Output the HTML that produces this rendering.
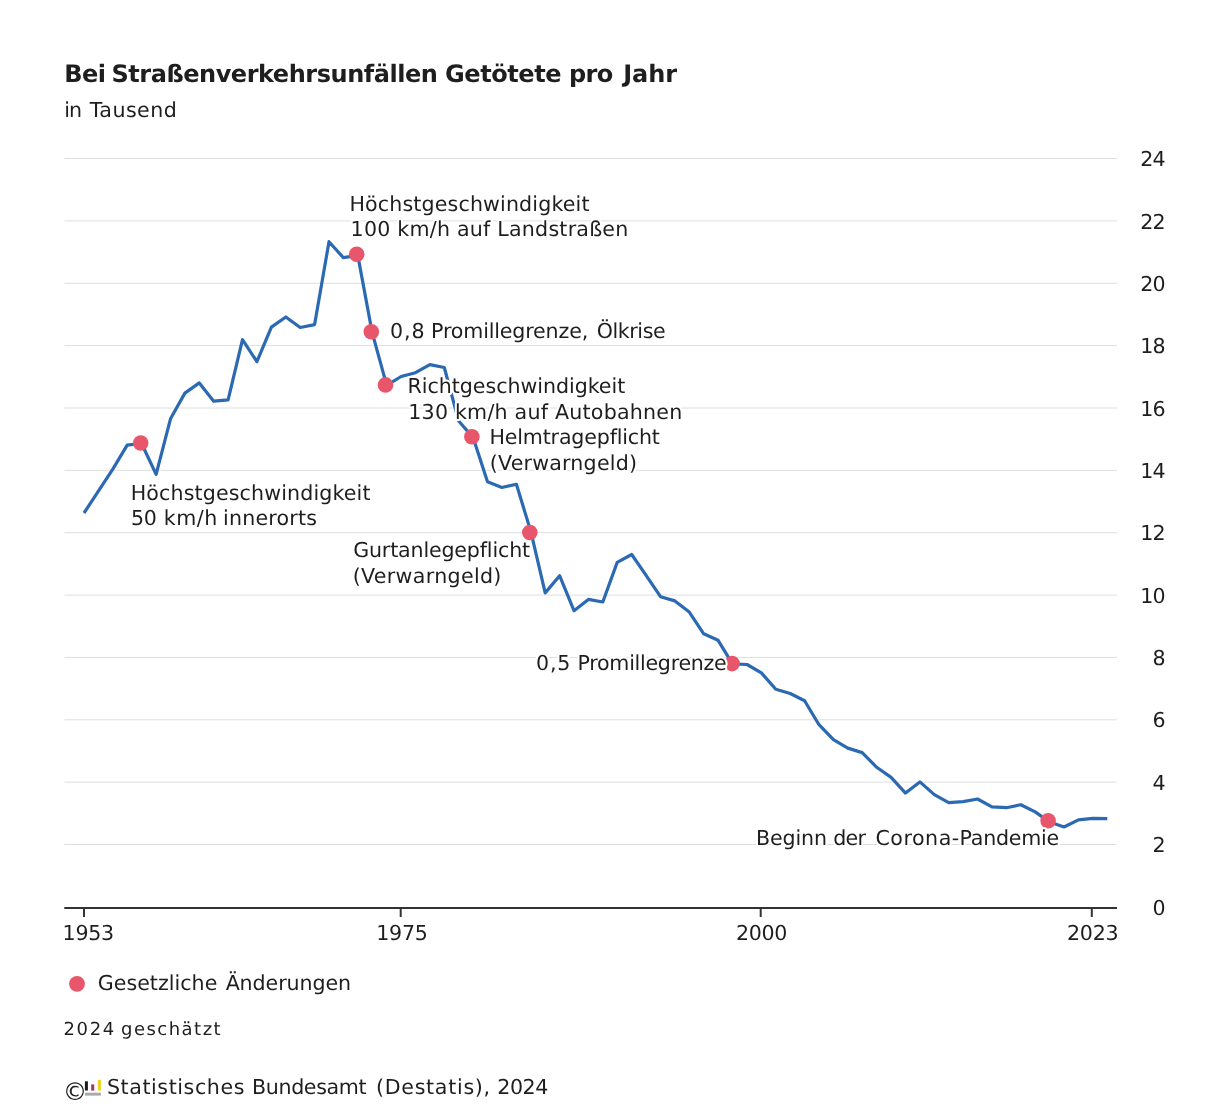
<!DOCTYPE html>
<html lang="de"><head><meta charset="utf-8"><title>Bei Straßenverkehrsunfällen Getötete pro Jahr</title>
<style>
html,body{margin:0;padding:0;background:#fff;}
body{width:1229px;height:1120px;overflow:hidden;position:relative;font-family:"DejaVu Sans","Liberation Sans",sans-serif;color:#1e1e1e;}
svg{position:absolute;left:0;top:0;}
svg text{font-family:"DejaVu Sans","Liberation Sans",sans-serif;fill:#1e1e1e;text-rendering:geometricPrecision;}
</style></head><body>
<svg width="1229" height="1120" viewBox="0 0 1229 1120">
<text y="82.0" font-size="24" font-weight="bold"><tspan x="64.14" letter-spacing="-0.519">Bei </tspan><tspan x="111.44" letter-spacing="-0.46">Straßenverkehrsunfällen </tspan><tspan x="444.99" letter-spacing="-0.411">Getötete </tspan><tspan x="568.94" letter-spacing="-0.641">pro </tspan><tspan x="623.16" letter-spacing="0.002">Jahr</tspan></text>
<text y="116.7" font-size="20.6"><tspan x="64.14" letter-spacing="-0.8">in </tspan><tspan x="89.78" letter-spacing="0.436">Tausend</tspan></text>
<g stroke="#dedede" stroke-width="1"><line x1="64.5" x2="1117" y1="844.5" y2="844.5"/><line x1="64.5" x2="1117" y1="782.1" y2="782.1"/><line x1="64.5" x2="1117" y1="719.8" y2="719.8"/><line x1="64.5" x2="1117" y1="657.4" y2="657.4"/><line x1="64.5" x2="1117" y1="595.1" y2="595.1"/><line x1="64.5" x2="1117" y1="532.7" y2="532.7"/><line x1="64.5" x2="1117" y1="470.3" y2="470.3"/><line x1="64.5" x2="1117" y1="408.0" y2="408.0"/><line x1="64.5" x2="1117" y1="345.6" y2="345.6"/><line x1="64.5" x2="1117" y1="283.3" y2="283.3"/><line x1="64.5" x2="1117" y1="220.9" y2="220.9"/><line x1="64.5" x2="1117" y1="158.5" y2="158.5"/></g>
<g font-size="20.6" text-anchor="end" letter-spacing="-0.9"><text x="1164.7" y="914.5">0</text><text x="1164.7" y="852.1">2</text><text x="1164.7" y="789.7">4</text><text x="1164.7" y="727.4">6</text><text x="1164.7" y="665.0">8</text><text x="1164.7" y="602.7">10</text><text x="1164.7" y="540.3">12</text><text x="1164.7" y="477.9">14</text><text x="1164.7" y="415.6">16</text><text x="1164.7" y="353.2">18</text><text x="1164.7" y="290.9">20</text><text x="1164.7" y="228.5">22</text><text x="1164.7" y="166.1">24</text></g>
<polyline points="84.0,513.0 98.4,491.1 112.8,469.1 127.2,445.1 141.6,443.5 156.1,474.4 170.5,418.8 184.9,393.1 199.3,382.9 213.7,401.2 228.1,399.8 242.5,339.7 256.9,361.7 271.4,327.1 285.8,317.0 300.2,327.5 314.6,324.6 329.0,241.7 343.4,257.7 357.8,255.4 372.2,332.7 386.7,385.4 401.1,376.5 415.5,372.7 429.9,364.6 444.3,367.5 458.7,421.0 473.1,437.6 487.5,481.7 501.9,487.5 516.4,484.3 530.8,531.4 545.2,592.9 559.6,575.7 574.0,610.7 588.4,599.4 602.8,602.0 617.2,562.4 631.7,554.5 646.1,575.4 660.5,596.7 674.9,600.9 689.3,612.1 703.7,633.8 718.1,640.3 732.5,663.9 747.0,664.5 761.4,672.9 775.8,689.3 790.2,693.5 804.6,700.7 819.0,724.7 833.4,739.7 847.8,748.1 862.2,752.6 876.7,767.3 891.1,777.4 905.5,793.1 919.9,781.9 934.3,794.6 948.7,802.7 963.1,801.6 977.5,799.0 992.0,806.9 1006.4,807.7 1020.8,804.7 1035.2,811.9 1049.6,822.1 1064.0,827.0 1078.4,819.9 1092.8,818.3 1107.3,818.6" fill="none" stroke="#2b69b3" stroke-width="3.2" stroke-linejoin="round" stroke-linecap="butt"/>
<g fill="#e8566c"><circle cx="140.7" cy="443.0" r="7.8"/><circle cx="356.7" cy="254.2" r="7.8"/><circle cx="371.3" cy="331.8" r="7.8"/><circle cx="385.5" cy="384.9" r="7.8"/><circle cx="471.9" cy="436.8" r="7.8"/><circle cx="529.8" cy="532.5" r="7.8"/><circle cx="732.1" cy="663.6" r="7.8"/><circle cx="1048.1" cy="820.7" r="7.8"/></g>
<line x1="64.3" x2="1117" y1="908" y2="908" stroke="#333" stroke-width="2"/>
<g stroke="#333" stroke-width="2"><line x1="84.0" x2="84.0" y1="908" y2="917"/><line x1="400.7" x2="400.7" y1="908" y2="917"/><line x1="760.7" x2="760.7" y1="908" y2="917"/><line x1="1091.8" x2="1091.8" y1="908" y2="917"/></g>
<text x="62.62" y="940.3" font-size="20.6" letter-spacing="-0.309">1953</text>
<text x="376.34" y="940.3" font-size="20.6" letter-spacing="-0.311">1975</text>
<text x="735.88" y="940.3" font-size="20.6" letter-spacing="-0.32">2000</text>
<text x="1067.07" y="940.3" font-size="20.6" letter-spacing="-0.292">2023</text>
<g stroke="#fff" stroke-width="4" stroke-linejoin="round" paint-order="stroke">
<text x="349.47" y="210.8" font-size="20.6" letter-spacing="0.137">Höchstgeschwindigkeit</text>
<text x="350.6" y="236.2" font-size="20.6" letter-spacing="0.22">100 km/h auf Landstraßen</text>
<text y="338.4" font-size="20.6"><tspan x="389.99" letter-spacing="0.9">0,8 </tspan><tspan x="431.08" letter-spacing="-0.164">Promillegrenze, </tspan><tspan x="596.78" letter-spacing="-0.429">Ölkrise</tspan></text>
<text x="407.51" y="392.8" font-size="20.6" letter-spacing="-0.037">Richtgeschwindigkeit</text>
<text x="408.24" y="418.6" font-size="20.6" letter-spacing="0.221">130 km/h auf Autobahnen</text>
<text x="489.47" y="444.1" font-size="20.6" letter-spacing="-0.174">Helmtragepflicht</text>
<text x="489.8" y="469.6" font-size="20.6" letter-spacing="0.193">(Verwarngeld)</text>
<text x="130.68" y="500.2" font-size="20.6" letter-spacing="0.128">Höchstgeschwindigkeit</text>
<text y="525.3" font-size="20.6"><tspan x="131.02" letter-spacing="-0.399">50 </tspan><tspan x="163.78" letter-spacing="0.496">km/h </tspan><tspan x="223.06" letter-spacing="0.182">innerorts</tspan></text>
<text x="353.15" y="557.4" font-size="20.6" letter-spacing="-0.163">Gurtanlegepflicht</text>
<text x="352.68" y="583.0" font-size="20.6" letter-spacing="0.323">(Verwarngeld)</text>
<text y="669.8" font-size="20.6"><tspan x="535.9" letter-spacing="0.9">0,5 </tspan><tspan x="577.51" letter-spacing="-0.276">Promillegrenze</tspan></text>
<text y="845.2" font-size="20.6"><tspan x="755.88" letter-spacing="-0.09">Beginn </tspan><tspan x="833.25" letter-spacing="-0.8">der </tspan><tspan x="875.4" letter-spacing="0.529">Corona-</tspan><tspan x="959.51" letter-spacing="-0.238">Pandemie</tspan></text>
</g>
<circle cx="77.0" cy="983.9" r="7.9" fill="#e8566c"/>
<text y="989.5" font-size="20.6"><tspan x="97.78" letter-spacing="0.016">Gesetzliche </tspan><tspan x="225.63" letter-spacing="-0.089">Änderungen</tspan></text>
<text y="1034.5" font-size="18"><tspan x="63.56" letter-spacing="1.611">2024 </tspan><tspan x="121.01" letter-spacing="1.482">geschätzt</tspan></text>
<text x="62.75" y="1099.85" font-size="24.5">©</text>
<g>
<rect x="84.9" y="1081.3" width="3" height="9.2" fill="#1a1a1a"/>
<rect x="91.2" y="1084.4" width="3" height="6.2" fill="#a8345a"/>
<rect x="97.8" y="1079.8" width="3.1" height="10.7" fill="#efd21c"/>
<rect x="84.9" y="1092.7" width="16" height="2.9" fill="#a9a9ad"/>
</g>
<text y="1093.8" font-size="20.6"><tspan x="106.91" letter-spacing="0.578">Statistisches </tspan><tspan x="252.08" letter-spacing="-0.379">Bundesamt </tspan><tspan x="376.03" letter-spacing="0.698">(Destatis), </tspan><tspan x="497.34" letter-spacing="-0.483">2024</tspan></text>
</svg>
</body></html>
